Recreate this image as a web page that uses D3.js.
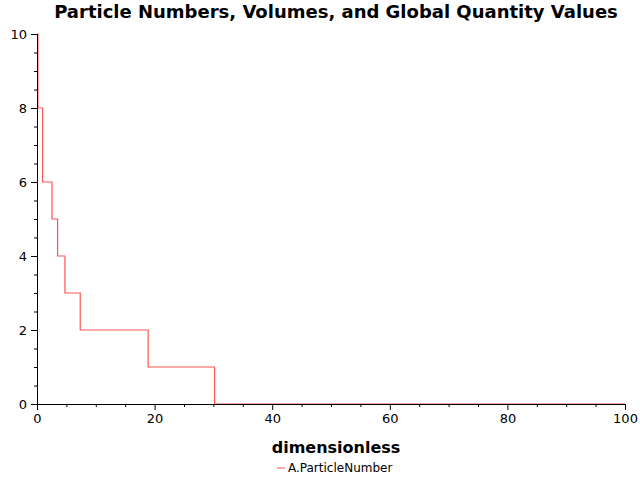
<!DOCTYPE html>
<meta charset="utf-8">
<style>
  body { margin: 0; }
  text { font-family: "DejaVu Sans", sans-serif; }
</style>
<svg width="640" height="480"></svg>
<script src="https://d3js.org/d3.v7.min.js"></script>
<script>
// step change times and values (value holds from time until next time)
const times = [0, 0.15, 0.95, 2.55, 3.5, 4.75, 7.35, 18.9, 30.2, 100]
const counts = [10, 8, 6, 5, 4, 3, 2, 1, 0, 0]
const xTicks = [0, 20, 40, 60, 80, 100]
const yTicks = [0, 2, 4, 6, 8, 10]

const svg = d3.select("svg")
const x = d3.scaleLinear().domain([0, 100]).range([37, 625])
const y = d3.scaleLinear().domain([0, 10]).range([404, 34])

const pts = times.map((t, i) => [t, counts[i]])
svg.append("path")
    .attr("d", d3.line().x(d => x(d[0])).y(d => y(d[1])).curve(d3.curveStepAfter)(pts))
    .attr("fill", "none")
    .attr("stroke", "#ff5555")
    .attr("stroke-width", 1.2)

const xAxis = svg.append("g").attr("transform", "translate(0,404)")
    .call(d3.axisBottom(x).tickValues(xTicks).tickSize(6).tickPadding(4))
xAxis.append("g").call(d3.axisBottom(x).tickValues(d3.range(5, 100, 5).filter(v => v % 20)).tickSize(3).tickFormat(""))
const yAxis = svg.append("g").attr("transform", "translate(37,0)")
    .call(d3.axisLeft(y).tickValues(yTicks).tickSize(6).tickPadding(4))
yAxis.append("g").call(d3.axisLeft(y).tickValues(d3.range(0.5, 10, 0.5).filter(v => v % 2)).tickSize(3).tickFormat(""))
svg.selectAll(".domain").attr("stroke", "#000")
svg.selectAll(".tick text").attr("font-size", 13).attr("fill", "#000")
  .attr("font-family", "DejaVu Sans")

svg.append("text").attr("x", 336).attr("y", 18).attr("text-anchor", "middle")
    .attr("font-size", 18).attr("font-weight", "bold")
    .text("Particle Numbers, Volumes, and Global Quantity Values")
svg.append("text").attr("x", 336).attr("y", 453).attr("text-anchor", "middle")
    .attr("font-size", 16).attr("font-weight", "bold").text("dimensionless")
svg.append("line").attr("x1", 277).attr("x2", 285).attr("y1", 468).attr("y2", 468)
    .attr("stroke", "#ff5555")
svg.append("text").attr("x", 288).attr("y", 472).attr("font-size", 12).text("A.ParticleNumber")
</script>
